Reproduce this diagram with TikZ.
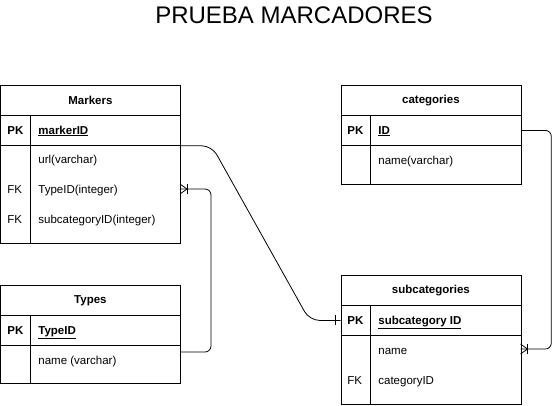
\documentclass[tikz,border=0pt]{standalone}
\usepackage{fontspec}
\setmainfont{Liberation Sans}
\usetikzlibrary{calc}
\begin{document}
\begin{tikzpicture}[x=1pt,y=-1pt,line width=0.8pt,
	tbl/.style={draw,anchor=north west,minimum width=180pt,inner sep=0pt},
	hd/.style={tbl,minimum height=30pt,font=\fontsize{11.5}{13}\selectfont\bfseries},
	fld/.style={anchor=base west,inner sep=0pt,font=\fontsize{11.5}{13}\selectfont},
	key/.style={fld,font=\fontsize{11.5}{13}\selectfont\bfseries},
	link/.style={rounded corners=6pt}]
	\useasboundingbox (0,0) rectangle (559,405);
	\node[font=\fontsize{24}{28}\selectfont] (title) at (294,15) {PRUEBA MARCADORES};
	% Markers
	\node[hd] (mk) at (0,85) {Markers};
	\node[tbl,minimum height=30pt] (mkpk) at (0,115) {};
	\node[tbl,minimum height=98pt] (mkbd) at (0,145) {};
	\draw ([xshift=30pt]mkpk.north west)--([xshift=30pt]mkbd.south west);
	\node[key] (mkk) at (7,134) {PK};
	\node[key] (mkid) at (38,134) {\underline{markerID}};
	\foreach \i/\k/\t/\y in {1//url(varchar)/163,2/FK/TypeID(integer)/193,3/FK/subcategoryID(integer)/223}{
		\node[fld] (mkk\i) at (7,\y) {\k};
		\node[fld] (mkf\i) at (38,\y) {\t};}
	\coordinate (mkt) at (180,189);
	% Types
	\node[hd] (ty) at (0,285) {Types};
	\node[tbl,minimum height=30pt] (typk) at (0,315) {};
	\node[tbl,minimum height=38pt] (tybd) at (0,345) {};
	\draw ([xshift=30pt]typk.north west)--([xshift=30pt]tybd.south west);
	\node[key] (tyk) at (7,334) {PK};
	\node[key] (tyid) at (38,334) {\underline{TypeID}};
	\node[fld] (tyf1) at (38,364) {name (varchar)};
	\coordinate (tyn) at (180,352);
	% categories
	\node[hd] (ct) at (340.5,85) {categories};
	\node[tbl,minimum height=30pt] (ctpk) at (340.5,115) {};
	\node[tbl,minimum height=39pt] (ctbd) at (340.5,145) {};
	\draw ([xshift=30pt]ctpk.north west)--([xshift=30pt]ctbd.south west);
	\node[key] (ctk) at (347,134) {PK};
	\node[key] (ctid) at (378,134) {\underline{ID}};
	\node[fld] (ctf1) at (378,164) {name(varchar)};
	% subcategories
	\node[hd] (sc) at (340.5,275) {subcategories};
	\node[tbl,minimum height=30pt] (scpk) at (340.5,305) {};
	\node[tbl,minimum height=69pt] (scbd) at (340.5,335) {};
	\draw ([xshift=30pt]scpk.north west)--([xshift=30pt]scbd.south west);
	\node[key] (sck) at (347,324) {PK};
	\node[key] (scid) at (378,324) {\underline{subcategory ID}};
	\foreach \i/\k/\t/\y in {1//name/354,2/FK/categoryID/384}{
		\node[fld] (sck\i) at (347,\y) {\k};
		\node[fld] (scf\i) at (378,\y) {\t};}
	\coordinate (scn) at (520.5,349);
	% links
	\draw[link,rounded corners=10pt] (mkpk.south east)--++(31,0)--([xshift=-31pt]scpk.west)--(scpk.west);
	\draw ([xshift=-5pt,yshift=5pt]scpk.west)--([xshift=-5pt,yshift=-5pt]scpk.west);
	\draw[link] (tyn)--++(31,0)|-(mkt);
	\draw[link] (ctpk.east)--++(30,0)|-(scn);
	\foreach \p in {mkt,scn}{
		\draw ([yshift=5pt]\p)--([xshift=7pt]\p)--([yshift=-5pt]\p);
		\draw ([xshift=7pt,yshift=5pt]\p)--([xshift=7pt,yshift=-5pt]\p);}
\end{tikzpicture}
\end{document}
